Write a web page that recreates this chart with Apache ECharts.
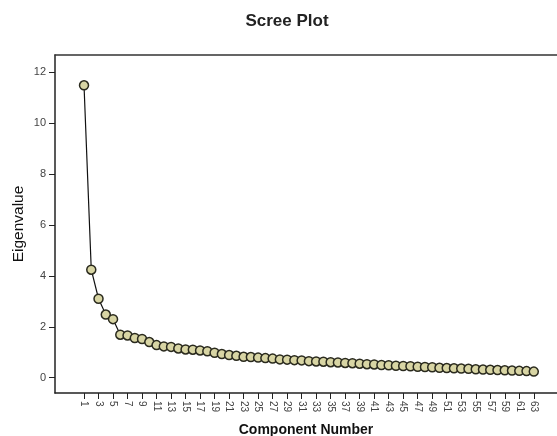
<!DOCTYPE html>
<html>
<head>
<meta charset="utf-8">
<script src="https://cdn.jsdelivr.net/npm/echarts@6/dist/echarts.min.js"></script>
<style>
  html, body { margin: 0; padding: 0; background: #fff; }
  #chart { width: 557px; height: 436px; }
</style>
</head>
<body>
<div id="chart"></div>
<script>
  // component numbers and their eigenvalues
  const components = [];
  for (let i = 1; i <= 63; i++) components.push(i);
  const eigenvalues = [
    11.48, 4.24, 3.10, 2.48, 2.30, 1.69, 1.66, 1.56, 1.52, 1.40,
    1.28, 1.23, 1.21, 1.15, 1.11, 1.10, 1.07, 1.04, 0.98, 0.93,
    0.89, 0.86, 0.82, 0.81, 0.79, 0.77, 0.75, 0.72, 0.71, 0.69,
    0.68, 0.65, 0.64, 0.63, 0.61, 0.60, 0.58, 0.57, 0.55, 0.53,
    0.52, 0.50, 0.49, 0.47, 0.46, 0.45, 0.43, 0.42, 0.41, 0.39,
    0.38, 0.37, 0.36, 0.35, 0.33, 0.32, 0.31, 0.30, 0.29, 0.28,
    0.27, 0.26, 0.24
  ];
  const xTicks = components.filter((c) => c % 2 === 1);
  const yTicks = [0, 2, 4, 6, 8, 10, 12];

  const font = 'Liberation Sans, Arial, sans-serif';
  const chart = echarts.init(document.getElementById('chart'));

  chart.setOption({
    animation: false,
    title: {
      text: 'Scree Plot',
      left: 282,
      top: 8,
      textAlign: 'center',
      textStyle: { fontFamily: font, fontSize: 17, fontWeight: 'bold', color: '#222' },
    },
    grid: { left: 55, right: 0, top: 55, bottom: 43, outerBoundsMode: 'none' },
    xAxis: [
      {
        type: 'value',
        min: -3,
        max: 66.2,
        name: 'Component Number',
        nameLocation: 'middle',
        nameGap: 30,
        nameMoveOverlap: false,
        nameTextStyle: { fontFamily: font, fontSize: 14, fontWeight: 'bold', color: '#111' },
        splitLine: { show: false },
        axisLine: { onZero: false, lineStyle: { color: '#222', width: 1.5 } },
        axisTick: { customValues: xTicks, length: 6, lineStyle: { color: '#222' } },
        axisLabel: {
          customValues: xTicks,
          rotate: -90,
          margin: 8,
          fontFamily: font,
          fontSize: 10,
          color: '#444',
        },
      },
      {
        type: 'value',
        position: 'top',
        min: -3,
        max: 66.2,
        splitLine: { show: false },
        axisLine: { show: true, onZero: false, lineStyle: { color: '#333', width: 1.5 } },
        axisTick: { show: false },
        axisLabel: { show: false },
      },
    ],
    yAxis: {
      type: 'value',
      min: -0.6,
      max: 12.67,
      name: 'Eigenvalue',
      nameLocation: 'middle',
      nameGap: 28,
      nameMoveOverlap: false,
      nameTextStyle: { fontFamily: font, fontSize: 15.5, color: '#111' },
      splitLine: { show: false },
      axisLine: { show: true, onZero: false, lineStyle: { color: '#222', width: 1.5 } },
      axisTick: { customValues: yTicks, length: 6, lineStyle: { color: '#222' } },
      axisLabel: { customValues: yTicks, margin: 9, fontFamily: font, fontSize: 11, color: '#444' },
    },
    series: [
      {
        type: 'line',
        data: components.map((c, i) => [c, eigenvalues[i]]),
        symbol: 'circle',
        symbolSize: 9,
        lineStyle: { color: '#111', width: 1.2 },
        itemStyle: { color: '#d8d5a4', borderColor: '#2a2a1e', borderWidth: 1.5 },
      },
    ],
  });
</script>
</body>
</html>
